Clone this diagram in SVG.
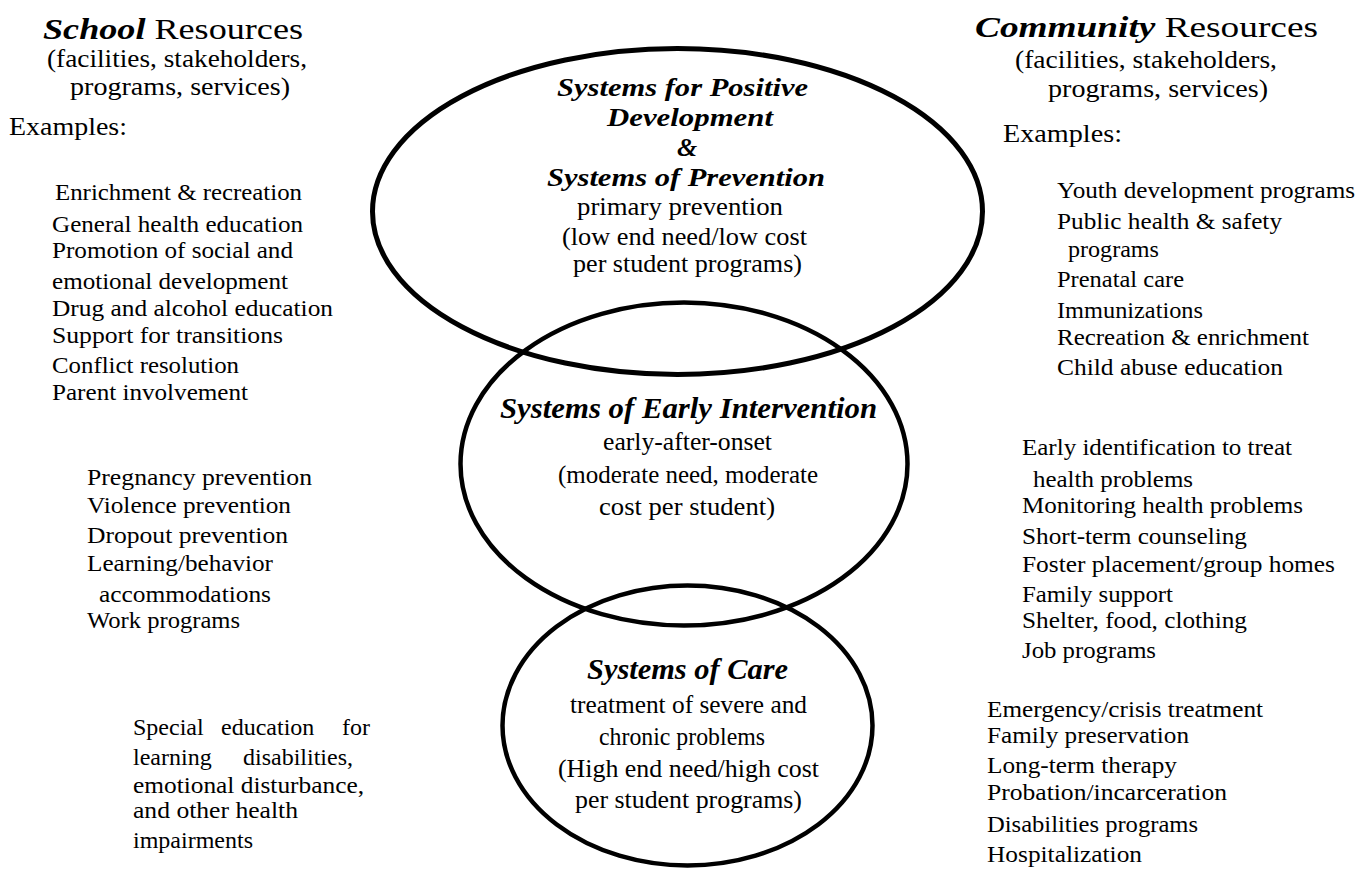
<svg xmlns="http://www.w3.org/2000/svg" width="1372" height="871" viewBox="0 0 1372 871" font-family="'Liberation Serif', Tinos, 'Times New Roman', Times, serif">
<style>
text{font-family:'Liberation Serif',Tinos,'Times New Roman',Times,serif;fill:#000}
.h{font-size:29px}
.bi{font-weight:bold;font-style:italic}
.p{font-size:26px}
.it{font-size:24px}
.cb{font-size:30px;font-weight:bold;font-style:italic}
.ct{font-size:26px;font-weight:bold;font-style:italic}
.cr{font-size:26px}
.ring{fill:none;stroke:#000}
</style>
<rect width="1372" height="871" fill="#fff"/>
<g id="connectors"/>
<g id="node-prevention">
<ellipse class="ring" cx="677.5" cy="211.5" rx="305" ry="163" stroke-width="5"/>
<text class="ct" x="557" y="96" textLength="251" lengthAdjust="spacingAndGlyphs">Systems for Positive</text>
<text class="ct" x="607" y="126" textLength="166" lengthAdjust="spacingAndGlyphs">Development</text>
<text class="ct" x="677" y="156">&amp;</text>
<text class="ct" x="547" y="186" textLength="278" lengthAdjust="spacingAndGlyphs">Systems of Prevention</text>
<text class="cr" x="577" y="215" textLength="206" lengthAdjust="spacingAndGlyphs">primary prevention</text>
<text class="cr" x="562" y="245" textLength="245" lengthAdjust="spacingAndGlyphs">(low end need/low cost</text>
<text class="cr" x="573" y="272" textLength="229" lengthAdjust="spacingAndGlyphs">per student programs)</text>
</g>
<g id="node-early">
<ellipse class="ring" cx="684" cy="464" rx="223.5" ry="161.5" stroke-width="4.5"/>
<text class="cb" x="500" y="418" textLength="377" lengthAdjust="spacingAndGlyphs">Systems of Early Intervention</text>
<text class="cr" x="603" y="450" textLength="169" lengthAdjust="spacingAndGlyphs">early-after-onset</text>
<text class="cr" x="558" y="483" textLength="260" lengthAdjust="spacingAndGlyphs">(moderate need, moderate</text>
<text class="cr" x="599" y="515" textLength="176" lengthAdjust="spacingAndGlyphs">cost per student)</text>
</g>
<g id="node-care">
<ellipse class="ring" cx="687.5" cy="725.5" rx="185" ry="140" stroke-width="4.5"/>
<text class="cb" x="587" y="679" textLength="201" lengthAdjust="spacingAndGlyphs">Systems of Care</text>
<text class="cr" x="570" y="713" textLength="237" lengthAdjust="spacingAndGlyphs">treatment of severe and</text>
<text class="cr" x="599" y="745" textLength="166" lengthAdjust="spacingAndGlyphs">chronic problems</text>
<text class="cr" x="558" y="777" textLength="261" lengthAdjust="spacingAndGlyphs">(High end need/high cost</text>
<text class="cr" x="575" y="808" textLength="227" lengthAdjust="spacingAndGlyphs">per student programs)</text>
</g>
<g id="school-resources">
<text class="h" x="43" y="39" textLength="260" lengthAdjust="spacingAndGlyphs"><tspan class="bi">School</tspan> Resources</text>
<text class="p" x="47" y="67" textLength="260" lengthAdjust="spacingAndGlyphs">(facilities, stakeholders,</text>
<text class="p" x="70" y="95" textLength="220" lengthAdjust="spacingAndGlyphs">programs, services)</text>
<text class="p" x="9" y="135" textLength="118" lengthAdjust="spacingAndGlyphs">Examples:</text>
<text class="it" x="55" y="200" textLength="247" lengthAdjust="spacingAndGlyphs">Enrichment &amp; recreation</text>
<text class="it" x="52" y="232" textLength="251" lengthAdjust="spacingAndGlyphs">General health education</text>
<text class="it" x="52" y="258" textLength="241" lengthAdjust="spacingAndGlyphs">Promotion of social and</text>
<text class="it" x="52" y="289" textLength="236" lengthAdjust="spacingAndGlyphs">emotional development</text>
<text class="it" x="52" y="316" textLength="281" lengthAdjust="spacingAndGlyphs">Drug and alcohol education</text>
<text class="it" x="52" y="343" textLength="231" lengthAdjust="spacingAndGlyphs">Support for transitions</text>
<text class="it" x="52" y="373" textLength="187" lengthAdjust="spacingAndGlyphs">Conflict resolution</text>
<text class="it" x="52" y="400" textLength="196" lengthAdjust="spacingAndGlyphs">Parent involvement</text>
<text class="it" x="87" y="485" textLength="225" lengthAdjust="spacingAndGlyphs">Pregnancy prevention</text>
<text class="it" x="87" y="513" textLength="204" lengthAdjust="spacingAndGlyphs">Violence prevention</text>
<text class="it" x="87" y="543" textLength="201" lengthAdjust="spacingAndGlyphs">Dropout prevention</text>
<text class="it" x="87" y="571" textLength="186" lengthAdjust="spacingAndGlyphs">Learning/behavior</text>
<text class="it" x="99" y="602" textLength="172" lengthAdjust="spacingAndGlyphs">accommodations</text>
<text class="it" x="87" y="628" textLength="153" lengthAdjust="spacingAndGlyphs">Work programs</text>
<text class="it" y="735"><tspan x="133">Special</tspan> <tspan x="221">education</tspan> <tspan x="342">for</tspan></text>
<text class="it" y="765"><tspan x="133">learning</tspan> <tspan x="243">disabilities,</tspan></text>
<text class="it" x="133" y="793" textLength="231" lengthAdjust="spacingAndGlyphs">emotional disturbance,</text>
<text class="it" x="133" y="818" textLength="165" lengthAdjust="spacingAndGlyphs">and other health</text>
<text class="it" x="133" y="848" textLength="120" lengthAdjust="spacingAndGlyphs">impairments</text>
</g>
<g id="community-resources">
<text class="h" x="975" y="37" textLength="343" lengthAdjust="spacingAndGlyphs"><tspan class="bi">Community</tspan> Resources</text>
<text class="p" x="1015" y="68" textLength="262" lengthAdjust="spacingAndGlyphs">(facilities, stakeholders,</text>
<text class="p" x="1048" y="97" textLength="220" lengthAdjust="spacingAndGlyphs">programs, services)</text>
<text class="p" x="1003" y="142" textLength="119" lengthAdjust="spacingAndGlyphs">Examples:</text>
<text class="it" x="1057" y="198" textLength="298" lengthAdjust="spacingAndGlyphs">Youth development programs</text>
<text class="it" x="1057" y="229" textLength="225" lengthAdjust="spacingAndGlyphs">Public health &amp; safety</text>
<text class="it" x="1068" y="257" textLength="91" lengthAdjust="spacingAndGlyphs">programs</text>
<text class="it" x="1057" y="287" textLength="127" lengthAdjust="spacingAndGlyphs">Prenatal care</text>
<text class="it" x="1057" y="318" textLength="146" lengthAdjust="spacingAndGlyphs">Immunizations</text>
<text class="it" x="1057" y="345" textLength="252" lengthAdjust="spacingAndGlyphs">Recreation &amp; enrichment</text>
<text class="it" x="1057" y="375" textLength="226" lengthAdjust="spacingAndGlyphs">Child abuse education</text>
<text class="it" x="1022" y="455" textLength="270" lengthAdjust="spacingAndGlyphs">Early identification to treat</text>
<text class="it" x="1033" y="487" textLength="160" lengthAdjust="spacingAndGlyphs">health problems</text>
<text class="it" x="1022" y="513" textLength="281" lengthAdjust="spacingAndGlyphs">Monitoring health problems</text>
<text class="it" x="1022" y="544" textLength="225" lengthAdjust="spacingAndGlyphs">Short-term counseling</text>
<text class="it" x="1022" y="572" textLength="313" lengthAdjust="spacingAndGlyphs">Foster placement/group homes</text>
<text class="it" x="1022" y="602" textLength="151" lengthAdjust="spacingAndGlyphs">Family support</text>
<text class="it" x="1022" y="628" textLength="225" lengthAdjust="spacingAndGlyphs">Shelter, food, clothing</text>
<text class="it" x="1022" y="658" textLength="134" lengthAdjust="spacingAndGlyphs">Job programs</text>
<text class="it" x="987" y="717" textLength="276" lengthAdjust="spacingAndGlyphs">Emergency/crisis treatment</text>
<text class="it" x="987" y="743" textLength="202" lengthAdjust="spacingAndGlyphs">Family preservation</text>
<text class="it" x="987" y="773" textLength="190" lengthAdjust="spacingAndGlyphs">Long-term therapy</text>
<text class="it" x="987" y="800" textLength="240" lengthAdjust="spacingAndGlyphs">Probation/incarceration</text>
<text class="it" x="987" y="832" textLength="211" lengthAdjust="spacingAndGlyphs">Disabilities programs</text>
<text class="it" x="987" y="862" textLength="155" lengthAdjust="spacingAndGlyphs">Hospitalization</text>
</g>
</svg>
